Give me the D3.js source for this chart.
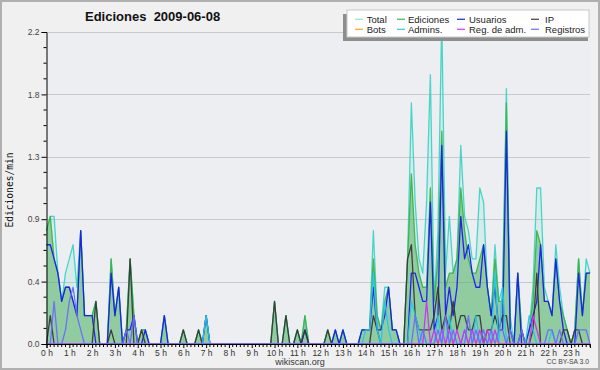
<!DOCTYPE html>
<html><head><meta charset="utf-8">
<script src="https://cdn.jsdelivr.net/npm/d3@7/dist/d3.min.js"></script>
<style>body{margin:0;background:#f0f0f0}svg{display:block}</style>
</head><body>
<svg id="chart" width="600" height="370"></svg>
<script>
// ---------- DATA (edits/min, one value per 10-minute bin, 144 bins) ----------
const hourLabels = ["0 h","1 h","2 h","3 h","4 h","5 h","6 h","7 h","8 h","9 h","10 h","11 h",
  "12 h","13 h","14 h","15 h","16 h","17 h","18 h","19 h","20 h","21 h","22 h","23 h"];
const yTickValues = [0, 0.44, 0.88, 1.32, 1.76, 2.2];
const yTickLabels = ["0.0","0.4","0.9","1.3","1.8","2.2"];
const seriesNames = ["Total","Ediciones","Usuarios","IP","Bots","Admins.","Reg. de adm.","Registros"];

const total = [
 0.8,0.9,0.9,0.5,0.3,0.5, 0.6,0.7,0.4,0.8,0.2,0.2, 0.2,0.3,0,0,0,0.6, 0.2,0.4,0,0.1,0.6,0.2,
 0,0.1,0.1,0,0,0, 0,0.2,0,0,0,0, 0.1,0,0,0,0.1,0, 0.2,0,0,0,0,0,
 0,0,0,0,0,0, 0,0,0,0,0,0, 0.3,0,0,0.2,0,0, 0.1,0,0.2,0,0,0,
 0,0,0.1,0,0.1,0, 0.1,0,0,0,0,0.1, 0.1,0.1,0.8,0.2,0.1,0.4, 0.4,0.1,0.1,0,0,0.6,
 1.7,1.0,0.6,0.5,1.0,1.9, 0.3,0.8,2.3,0.5,0.9,0.5, 0.6,1.4,0.9,0.8,0.6,0.6, 1.1,1.0,0.4,0.2,0.7,0.3,
 0.4,1.8,0.2,0,0.5,0.1, 0,0.1,0.4,1.1,1.1,0.4, 0.3,0.2,0.7,0.4,0.2,0.1, 0,0.1,0.6,0.2,0.6,0.5];
const ediciones = [
 0.8,0.9,0.6,0.5,0.3,0.4, 0.4,0.3,0.2,0.8,0.2,0.2, 0.2,0.3,0,0,0,0.6, 0.2,0.4,0,0.1,0.6,0.2,
 0,0.1,0.1,0,0,0, 0,0.2,0,0,0,0, 0.1,0,0,0,0.1,0, 0.2,0,0,0,0,0,
 0,0,0,0,0,0, 0,0,0,0,0,0, 0.3,0,0,0.2,0,0, 0.1,0,0.2,0,0,0,
 0,0,0.1,0,0.1,0, 0.1,0,0,0,0,0.1, 0.1,0.1,0.6,0.2,0.1,0.3, 0.4,0.1,0.1,0,0,0.6,
 1.2,0.7,0.5,0.4,0.4,1.1, 0.3,0.6,1.5,0.4,0.5,0.5, 0.6,1.1,0.8,0.6,0.5,0.5, 0.6,0.7,0.4,0.2,0.6,0.3,
 0.3,1.7,0.1,0,0.5,0.1, 0,0.1,0.3,0.8,0.7,0.3, 0.3,0.2,0.6,0.3,0.2,0.1, 0,0.1,0.6,0.2,0.5,0.5];
const usuarios = [
 0.7,0.7,0.6,0.5,0.3,0.4, 0.4,0.3,0.2,0.8,0.2,0.2, 0.2,0,0,0,0,0.5, 0.2,0.4,0,0.1,0.1,0.2,
 0,0,0.1,0,0,0, 0,0.2,0,0,0,0, 0,0,0,0,0,0, 0.2,0,0,0,0,0,
 0,0,0,0,0,0, 0,0,0,0,0,0, 0,0,0,0,0,0, 0,0,0.1,0,0,0,
 0,0,0,0,0.1,0, 0.1,0,0,0,0,0.1, 0.1,0.1,0.4,0.1,0.1,0.2, 0.4,0.1,0.1,0,0,0,
 0.5,0.5,0.4,0.3,0.3,1.0, 0.1,0.2,1.4,0.2,0.4,0.2, 0.4,0.9,0.6,0.7,0.5,0.4, 0.4,0.7,0.4,0.2,0.4,0.1,
 0.1,1.5,0.1,0,0.5,0, 0,0.1,0.2,0.3,0.7,0.3, 0.3,0.2,0.6,0.3,0.1,0, 0,0,0.5,0.2,0.5,0.5];
const ip = [
 0,0.2,0,0,0,0, 0,0,0,0,0,0, 0,0.3,0,0,0,0.1, 0,0,0,0,0.6,0,
 0,0.1,0,0,0,0, 0,0,0,0,0,0, 0.1,0,0,0,0.1,0, 0,0,0,0,0,0,
 0,0,0,0,0,0, 0,0,0,0,0,0, 0.3,0,0,0.2,0,0, 0.1,0,0.1,0,0,0,
 0,0,0.1,0,0,0, 0,0,0,0,0,0, 0,0,0.2,0.1,0,0, 0,0,0,0,0,0.6,
 0.7,0.2,0.1,0.1,0.1,0.1, 0.2,0.4,0.1,0.2,0.1,0.3, 0.1,0.2,0.2,0.1,0.1,0.2, 0.2,0,0.1,0.1,0.2,0.1,
 0.2,0.2,0,0,0,0.1, 0,0,0.1,0.5,0,0, 0,0,0,0,0.1,0.1, 0,0.1,0.1,0,0,0];
const bots = [
 0,0,0,0,0,0, 0,0,0,0,0,0, 0,0,0,0,0,0, 0,0,0,0,0,0,
 0,0,0,0,0,0, 0,0,0,0,0,0, 0,0,0,0,0,0, 0,0,0,0,0,0,
 0,0,0,0,0,0, 0,0,0,0,0,0, 0,0,0,0,0,0, 0,0,0,0,0,0,
 0,0,0,0,0,0, 0,0,0,0,0,0, 0,0,0,0,0,0, 0,0,0,0,0,0,
 0,0,0,0,0,0, 0,0,0,0,0,0, 0,0,0,0,0,0, 0,0,0,0,0,0,
 0,0,0,0,0,0, 0,0,0,0,0,0, 0,0,0,0,0,0, 0,0,0,0,0,0];
const admins = [
 0,0,0,0,0,0, 0,0,0,0,0,0, 0,0,0,0,0,0, 0,0,0,0,0,0,
 0,0,0,0,0,0, 0,0,0,0,0,0, 0,0,0,0,0,0, 0.2,0,0,0,0,0,
 0,0,0,0,0,0, 0,0,0,0,0,0, 0,0,0,0,0,0, 0,0,0,0,0,0,
 0,0,0,0,0,0, 0,0,0,0,0,0, 0.1,0.1,0.5,0.1,0,0.3, 0.1,0,0,0,0,0,
 0.3,0.2,0.1,0,0,0, 0,0.2,0,0,0.2,0, 0,0,0.1,0,0,0.2, 0,0,0,0,0.5,0,
 0.4,0,0,0,0,0, 0,0.2,0.1,0,0,0, 0,0.1,0,0,0,0, 0,0,0,0,0,0];
const regAdm = [
 0,0,0,0,0,0, 0,0,0,0,0,0, 0,0,0,0,0,0, 0,0,0,0,0,0,
 0,0,0,0,0,0, 0,0,0,0,0,0, 0,0,0,0,0,0, 0,0,0,0,0,0,
 0,0,0,0,0,0, 0,0,0,0,0,0, 0,0,0,0,0,0, 0,0,0,0,0,0,
 0,0,0,0,0,0, 0,0,0,0,0,0, 0,0,0,0,0,0, 0,0,0,0,0,0,
 0,0,0,0,0.3,0, 0.1,0,0.1,0,0.1,0, 0.1,0,0.1,0,0.1,0, 0.1,0,0.1,0,0.1,0,
 0,0,0,0,0,0, 0,0,0.2,0.1,0,0, 0,0,0,0,0,0, 0,0,0,0,0,0];
const registros = [
 0,0,0.3,0,0,0.1, 0.3,0.4,0.2,0.1,0,0, 0,0,0,0,0,0, 0,0,0,0.1,0,0.2,
 0,0,0,0,0,0, 0,0,0,0,0,0, 0,0,0,0,0,0, 0,0,0,0,0,0,
 0,0,0,0,0,0, 0,0,0,0,0,0, 0,0,0,0,0,0, 0,0,0,0,0,0,
 0,0,0,0,0,0, 0,0,0,0,0,0, 0,0,0,0,0,0, 0,0,0,0,0,0,
 0,0.2,0,0.1,0,0, 0,0.1,0,0.2,0,0.1, 0,0,0,0.2,0,0.1, 0,0.1,0,0.1,0,0.1,
 0.1,0,0.1,0,0,0.1, 0,0,0,0,0,0, 0.1,0.1,0,0.1,0,0, 0,0,0.1,0.1,0.1,0];

const seriesData = [total, ediciones, usuarios, ip, bots, admins, regAdm, registros];
const seriesColors = ["#3fd4c6","#3cb44a","#1a1af0","#383838","#ffa020","#2cc4e8","#d030f0","#6a6aff"];

// ---------- LAYOUT ----------
const svg = d3.select("#chart");
const W = 600, H = 370;
const plot = {left: 46.5, right: 590, top: 32, bottom: 344};

svg.append("rect").attr("x",0).attr("y",0).attr("width",W).attr("height",H).attr("fill","#f0f0f0");
svg.append("rect").attr("x",1).attr("y",1).attr("width",W-2).attr("height",H-2)
  .attr("fill","none").attr("stroke","#b0b0b0").attr("stroke-width",2);
svg.append("rect").attr("x",plot.left).attr("y",plot.top).attr("width",plot.right-plot.left)
  .attr("height",plot.bottom-plot.top).attr("fill","#edeef1");

const n = total.length;
const x = d3.scaleLinear().domain([0, n-1]).range([plot.left, plot.right]);
const y = d3.scaleLinear().domain([0, 2.2]).range([plot.bottom, plot.top]);

// grid
svg.append("g").selectAll("line").data(yTickValues.slice(1)).join("line")
  .attr("x1",plot.left).attr("x2",plot.right)
  .attr("y1",d=>Math.round(y(d))+0.5).attr("y2",d=>Math.round(y(d))+0.5)
  .attr("stroke","#c9c9cb").attr("stroke-width",1);

// areas
const idx = d3.range(n);
const areaGen = arr => d3.area().x(i=>x(i)).y0(y(0)).y1(i=>y(arr[i]))(idx);
const lineGen = arr => d3.line().x(i=>x(i)).y(i=>y(arr[i]))(idx);

svg.append("path").attr("d", areaGen(total)).attr("fill","#3fd4c6").attr("fill-opacity",0.12);
svg.append("path").attr("d", areaGen(ediciones)).attr("fill","#4aae58").attr("fill-opacity",0.5);

// lines (order as legend)
seriesData.forEach((arr, k) => {
  svg.append("path").attr("d", lineGen(arr)).attr("fill","none")
    .attr("stroke", seriesColors[k]).attr("stroke-width", 1.3)
    .attr("stroke-linejoin","round").attr("stroke-opacity", 0.95);
});

// axes
const yAxis = d3.axisLeft(y).tickValues(yTickValues).tickFormat((d,i)=>yTickLabels[i]).tickSize(5).tickPadding(2);
const gy = svg.append("g").attr("transform",`translate(${plot.left},0)`).call(yAxis);
gy.select(".domain").attr("stroke","#000");
gy.selectAll(".tick line").attr("stroke","#000");
gy.selectAll("text").attr("font-family","Liberation Sans, Arial, sans-serif").attr("font-size",8.5).attr("fill","#444");
// minor y ticks
const minorY = [];
for (let k=0;k<yTickValues.length-1;k++) for (let m=1;m<4;m++) minorY.push(yTickValues[k] + (yTickValues[k+1]-yTickValues[k])*m/4);
svg.append("g").selectAll("line").data(minorY).join("line")
  .attr("x1",plot.left-3).attr("x2",plot.left).attr("y1",d=>y(d)).attr("y2",d=>y(d)).attr("stroke","#000");

const xAxis = d3.axisBottom(x).tickValues(d3.range(0, n, 6)).tickFormat((d)=>hourLabels[d/6]).tickSize(4).tickPadding(2);
const gx = svg.append("g").attr("transform",`translate(0,${plot.bottom})`).call(xAxis);
gx.select(".domain").attr("stroke","#000");
gx.selectAll(".tick line").attr("stroke","#000");
gx.selectAll("text").attr("font-family","Liberation Sans, Arial, sans-serif").attr("font-size",8.5).attr("fill","#333");
svg.append("g").selectAll("line").data(idx.filter(i=>i%6)).join("line")
  .attr("x1",i=>x(i)).attr("x2",i=>x(i)).attr("y1",plot.bottom).attr("y2",plot.bottom+3).attr("stroke","#000");

// titles
svg.append("text").attr("x",85).attr("y",20.7).attr("font-family","Liberation Sans, Arial, sans-serif")
  .attr("font-weight","bold").attr("font-size",13).attr("fill","#111").style("white-space","pre")
  .text("Ediciones  2009-06-08");
svg.append("text").attr("transform","translate(12.5,190) rotate(-90)").attr("text-anchor","middle")
  .attr("font-family","DejaVu Sans Mono, monospace").attr("font-size",9.6).attr("fill","#111")
  .text("Ediciones/min");
svg.append("text").attr("x",300).attr("y",364.5).attr("text-anchor","middle")
  .attr("font-family","Liberation Sans, Arial, sans-serif").attr("font-size",9).attr("fill","#333").text("wikiscan.org");
svg.append("text").attr("x",589).attr("y",364).attr("text-anchor","end")
  .attr("font-family","Liberation Sans, Arial, sans-serif").attr("font-size",6.8).attr("fill","#444").text("CC BY-SA 3.0");

// legend
const lg = svg.append("g");
lg.append("rect").attr("x",343).attr("y",14).attr("width",245).attr("height",27).attr("fill","#8e8e8e");
lg.append("rect").attr("x",347).attr("y",10).attr("width",242).attr("height",27).attr("fill","#fff")
  .attr("stroke","#c8c8c8").attr("stroke-width",1);
const colX = [[355,366.7],[397,408],[457,469],[531,545]];
const rowY = [19.3, 29.3];
seriesNames.forEach((name,k) => {
  const col = k % 4, row = Math.floor(k/4);
  lg.append("line").attr("x1",colX[col][0]).attr("x2",colX[col][0]+8)
    .attr("y1",rowY[row]).attr("y2",rowY[row]).attr("stroke",seriesColors[k]).attr("stroke-width",1.3)
    .attr("stroke-opacity", k===0 ? 0.55 : 0.9);
  lg.append("text").attr("x",colX[col][1]).attr("y",rowY[row]+3.2)
    .attr("font-family","Liberation Sans, Arial, sans-serif").attr("font-size",9.5).attr("fill","#222").text(name);
});
</script>
</body></html>
